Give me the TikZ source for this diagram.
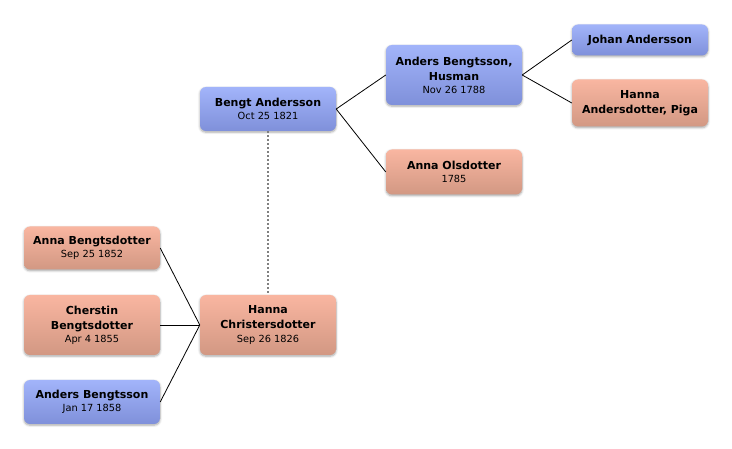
\documentclass[tikz,border=0pt]{standalone}
\usepackage{fontspec}
\setmainfont{DejaVu Sans}
\usetikzlibrary{positioning, calc, shadows.blur}

\definecolor{maletop}{HTML}{A2B4FA}
\definecolor{malebot}{HTML}{7F90DA}
\definecolor{femtop}{HTML}{F9B6A1}
\definecolor{fembot}{HTML}{D29883}

\begin{document}
\begin{tikzpicture}
    [x=1pt, y=-1pt,
    person/.style={rectangle, rounded corners=6pt, minimum width=136pt, align=center,
        inner sep=3pt, font=\fontsize{11}{15}\selectfont\bfseries,
        blur shadow={shadow xshift=0pt, shadow yshift=-1.2pt, shadow blur steps=6, shadow opacity=35}},
    malenode/.style={person, top color=maletop, bottom color=malebot},
    femnode/.style={person, top color=femtop, bottom color=fembot},
    link/.style={black, line width=0.8pt},
    spouse/.style={gray, line width=1.6pt, dash pattern=on 2pt off 2pt},]

    \useasboundingbox (0,0) rectangle (732,449);

    \newcommand{\born}[1]{\\[-1.8pt]{\fontsize{9.8}{12}\selectfont\mdseries #1}}

    %Nodes
    \node[malenode, minimum height=44pt](bengt) at (268,109){Bengt Andersson\born{Oct 25 1821}};
    \node[malenode, minimum height=60pt](husman) at (454,75){Anders Bengtsson,\\Husman\born{Nov 26 1788}};
    \node[malenode, minimum height=31pt](johan) at (640,40){Johan Andersson};
    \node[femnode, minimum height=47pt](piga) at (640,103){Hanna\\Andersdotter, Piga};
    \node[femnode, minimum height=45pt](olsd) at (454,172){Anna Olsdotter\born{1785}};
    \node[femnode, minimum height=60pt](hanna) at (268,325){Hanna\\Christersdotter\born{Sep 26 1826}};
    \node[femnode, minimum height=43pt](annab) at (92,248){Anna Bengtsdotter\born{Sep 25 1852}};
    \node[femnode, minimum height=60pt](cherstin) at (92,325){Cherstin\\Bengtsdotter\born{Apr 4 1855}};
    \node[malenode, minimum height=44pt](andersb) at (92,402){Anders Bengtsson\born{Jan 17 1858}};

    %Lines
    \draw[spouse](bengt.south)--(hanna.north);
    \draw[link](bengt.east)--(husman.west);
    \draw[link](bengt.east)--(olsd.west);
    \draw[link](husman.east)--(johan.west);
    \draw[link](husman.east)--(piga.west);
    \draw[link](hanna.west)--(annab.east);
    \draw[link](hanna.west)--(cherstin.east);
    \draw[link](hanna.west)--(andersb.east);
\end{tikzpicture}
\end{document}
